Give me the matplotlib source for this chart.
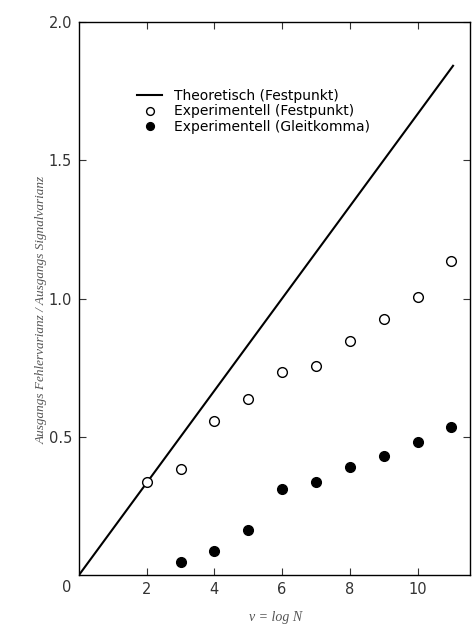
"""Fehlervarianz vs. Wortlaenge: Theorie und Experiment (Fest-/Gleitkomma)."""

import matplotlib

matplotlib.use("Agg")
import matplotlib.pyplot as plt  # noqa: E402

# data
THEO_X = [0.0, 11.05]
THEO_Y = [0.0, 11.05 / 6]

FIX_X = [2, 3, 4, 5, 6, 7, 8, 9, 10, 11]
FIX_Y = [0.336, 0.383, 0.557, 0.637, 0.734, 0.756, 0.846, 0.926, 1.005, 1.136]

FLOAT_X = [3, 4, 5, 6, 7, 8, 9, 10, 11]
FLOAT_Y = [0.047, 0.087, 0.163, 0.311, 0.336, 0.39, 0.43, 0.481, 0.535]

X_TICKS = [2, 4, 6, 8, 10]
Y_TICKS = [0.5, 1.0, 1.5, 2.0]
Y_TICKLABELS = ["0.5", "1.0", "1.5", "2.0"]

LABELS = [
    "Theoretisch (Festpunkt)",
    "Experimentell (Festpunkt)",
    "Experimentell (Gleitkomma)",
]

fig = plt.figure(figsize=(4.74, 6.24), dpi=100)
ax = fig.add_axes([79 / 474, 49 / 624, 391 / 474, 553 / 624])

ax.plot(THEO_X, THEO_Y, color="black", linewidth=1.5, label=LABELS[0])
ax.plot(FIX_X, FIX_Y, "o", markersize=7, markerfacecolor="white",
        markeredgecolor="black", markeredgewidth=1.0, linestyle="none",
        label=LABELS[1])
ax.plot(FLOAT_X, FLOAT_Y, "o", markersize=7, color="black",
        linestyle="none", label=LABELS[2])

ax.set_xlim(0, 391 / 33.85)
ax.set_ylim(0, 2.0)
ax.set_xticks(X_TICKS)
ax.set_yticks(Y_TICKS)
ax.set_yticklabels(Y_TICKLABELS)
ax.tick_params(direction="in", length=5, width=0.8, top=True, right=True,
               labelsize=10.5, colors="#333333", pad=5)
for s in ax.spines.values():
    s.set_linewidth(1.0)

# shared origin label and the cropped "12"
ax.text(-0.35, -0.045, "0", ha="center", va="center",
        fontsize=10.5, color="#333333", clip_on=False)
ax.text(12, -0.045, "12", ha="center", va="center",
        fontsize=10.5, color="#333333", clip_on=False)

ax.legend(loc="upper left", bbox_to_anchor=(137 / 474, 1 - 89 / 624),
          bbox_transform=fig.transFigure, frameon=False, fontsize=10,
          handlelength=1.8, handletextpad=0.9, labelspacing=0.1,
          markerscale=0.8, borderpad=0, borderaxespad=0)

fig.text(42 / 474, 1 - 310 / 624,
         "Ausgangs Fehlervarianz / Ausgangs Signalvarianz",
         rotation=90, ha="center", va="center", fontsize=9.5,
         family="Liberation Serif", style="italic", color="#555555")
fig.text(276 / 474, 1 - 617 / 624, "ν = log N", ha="center", va="center",
         fontsize=10, family="Liberation Serif", style="italic",
         color="#555555")

fig.savefig("out.png", dpi=100, facecolor="white")
